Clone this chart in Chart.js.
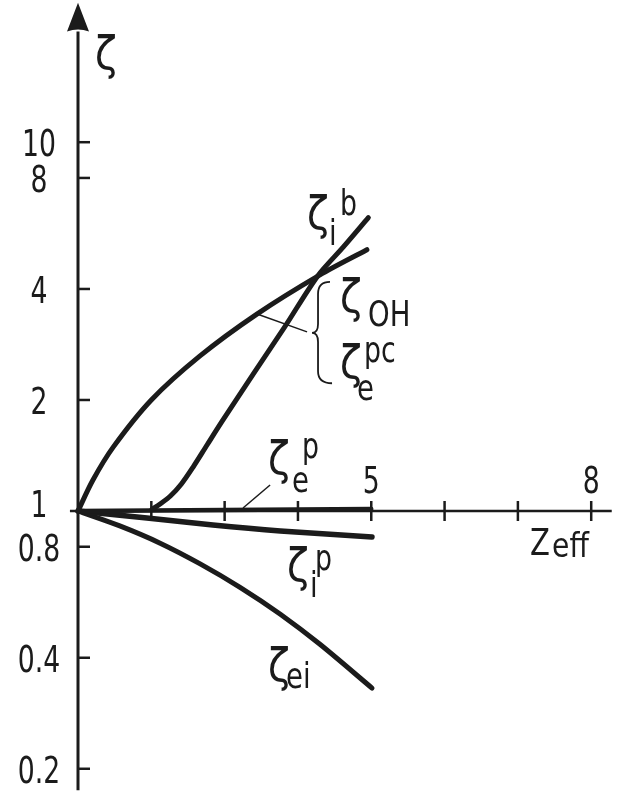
<!DOCTYPE html>
<html>
<head>
<meta charset="UTF-8">
<title>zeta vs Zeff</title>
<style>
  html, body { margin: 0; padding: 0; background: #fff; }
  #wrap { width: 622px; height: 792px; }
</style>
</head>
<body>
<div id="wrap"><canvas id="myChart" width="622" height="792"></canvas></div>

<script src="https://cdn.jsdelivr.net/npm/chart.js@4.4.1/dist/chart.umd.min.js"></script>
<script>
// curves: Z_eff positions and zeta values
var zOH    = [1, 1.2, 1.48, 2.0, 2.66, 3.44, 4.3, 4.94];
var zetaOH = [1, 1.21, 1.49, 2.0, 2.63, 3.42, 4.37, 5.11];
var zIb    = [2.01, 2.12, 2.26, 2.41, 2.57, 2.76, 2.96, 3.41, 3.82, 4.27, 4.62, 4.96];
var zetaIb = [1.01, 1.045, 1.098, 1.184, 1.316, 1.51, 1.744, 2.383, 3.157, 4.34, 5.2, 6.24];
var zEp    = [1, 2, 3, 4, 5];
var zetaEp = [1, 1.003, 1.006, 1.009, 1.012];
var zIp    = [1, 1.94, 2.84, 3.76, 5.01];
var zetaIp = [1, 0.957, 0.916, 0.883, 0.85];
var zEi    = [1, 1.57, 2.12, 2.66, 3.21, 3.76, 4.3, 5.01];
var zetaEi = [1, 0.911, 0.818, 0.72, 0.621, 0.525, 0.435, 0.331];

// axis ticks
var yTicks = [0.2, 0.4, 0.8, 1, 2, 4, 8, 10];
var yTickLabels = ['0.2', '0.4', '0.8', '1', '2', '4', '8', '10'];
var xTicks = [2, 3, 4, 5, 6, 7, 8];
var xTickLabels = ['', '', '', '5', '', '', '8'];

var INK = '#1b1b1b';
var FONT = '"DejaVu Sans Condensed", "DejaVu Sans", sans-serif';

function pts(xs, ys) {
    return xs.map(function (x, i) { return {x: x, y: ys[i]}; });
}

function curve(xs, ys, w) {
    return {
        data: pts(xs, ys),
        borderColor: INK,
        borderWidth: w,
        borderCapStyle: 'round',
        borderJoinStyle: 'round',
        pointRadius: 0,
        fill: false,
        tension: 0.3
    };
}

// text squeezed horizontally, the lettering is a narrow stencil style
function txt(ctx, s, x, y, size, align, squeeze) {
    ctx.save();
    ctx.font = size + 'px ' + FONT;
    ctx.translate(x, y);
    ctx.scale(squeeze, 1);
    ctx.textAlign = align;
    ctx.textBaseline = 'alphabetic';
    ctx.fillText(s, 0, 0);
    ctx.restore();
}

// curve labels: zeta anchored at a data point, indices offset in px
var labels = [
    {x: 1.232, y: 15.8, sub: '', sup: ''},
    {x: 4.124, y: 5.82, sub: 'i', sdx: 22, sdy: 16, sup: 'b', pdx: 33, pdy: -14},
    {x: 4.574, y: 3.47, sub: 'OH', sdx: 28, sdy: 14, sup: ''},
    {x: 4.574, y: 2.30, sub: 'e', sdx: 17, sdy: 22, sup: 'pc', pdx: 24, pdy: -16},
    {x: 3.592, y: 1.26, sub: 'e', sdx: 24, sdy: 18, sup: 'p', pdx: 34, pdy: -16},
    {x: 3.851, y: 0.646, sub: 'i', sdx: 23, sdy: 16, sup: 'p', pdx: 28, pdy: -11},
    {x: 3.592, y: 0.346, sub: 'ei', sdx: 18, sdy: 7, sup: ''}
];

var decor = {
    id: 'decor',
    beforeDatasetsDraw: function (chart) {
        var ctx = chart.ctx, xs = chart.scales.x, ys = chart.scales.y;
        var ax = xs.getPixelForValue(1), ay = ys.getPixelForValue(1);
        ctx.save();
        ctx.strokeStyle = INK;
        ctx.fillStyle = INK;
        ctx.lineCap = 'butt';

        // vertical axis with arrow head
        var top = ys.getPixelForValue(20.2), tip = ys.getPixelForValue(23.9);
        ctx.lineWidth = 3;
        ctx.beginPath();
        ctx.moveTo(ax, ys.getPixelForValue(0.175));
        ctx.lineTo(ax, top + 2);
        ctx.stroke();
        ctx.beginPath();
        ctx.moveTo(ax, tip);
        ctx.lineTo(ax - 11, top + 2);
        ctx.quadraticCurveTo(ax, top - 2, ax + 11, top + 2);
        ctx.closePath();
        ctx.fill();

        // horizontal axis
        ctx.lineWidth = 2.5;
        ctx.beginPath();
        ctx.moveTo(xs.getPixelForValue(0.89), ay);
        ctx.lineTo(xs.getPixelForValue(8.28), ay);
        ctx.stroke();

        // ticks
        ctx.lineWidth = 2.5;
        yTicks.forEach(function (v) {
            if (v === 1) return;
            var y = ys.getPixelForValue(v);
            ctx.beginPath();
            ctx.moveTo(ax, y);
            ctx.lineTo(ax + 12, y);
            ctx.stroke();
        });
        xTicks.forEach(function (v) {
            var x = xs.getPixelForValue(v);
            ctx.beginPath();
            ctx.moveTo(x, ay - 10);
            ctx.lineTo(x, ay + 10);
            ctx.stroke();
        });

        // tick labels
        var lx = xs.getPixelForValue(0.468);
        yTicks.forEach(function (v, i) {
            var y = ys.getPixelForValue(v) + 14;
            if (v === 1) y -= 8;
            txt(ctx, yTickLabels[i], lx, y, 38, 'center', 0.78);
        });
        xTicks.forEach(function (v, i) {
            if (!xTickLabels[i]) return;
            txt(ctx, xTickLabels[i], xs.getPixelForValue(v), ay - 18, 38, 'center', 0.78);
        });
        ctx.restore();
    },
    afterDatasetsDraw: function (chart) {
        var ctx = chart.ctx, xs = chart.scales.x, ys = chart.scales.y;
        function P(x, y) { return [xs.getPixelForValue(x), ys.getPixelForValue(y)]; }
        ctx.save();
        ctx.fillStyle = INK;
        ctx.strokeStyle = INK;

        // thin leader lines
        ctx.lineWidth = 1.5;
        [[3.62, 1.176, 3.251, 1.019], [3.442, 3.42, 4.124, 3.06]].forEach(function (l) {
            var a = P(l[0], l[1]), b = P(l[2], l[3]);
            ctx.beginPath();
            ctx.moveTo(a[0], a[1]);
            ctx.lineTo(b[0], b[1]);
            ctx.stroke();
        });

        // brace grouping zeta_OH and zeta_e^pc
        var T = P(4.437, 4.18), N = P(4.192, 3.04), B = P(4.465, 2.22);
        var s = N[0] + 6;
        ctx.lineWidth = 1.8;
        ctx.beginPath();
        ctx.moveTo(T[0], T[1]);
        ctx.quadraticCurveTo(s, T[1], s, T[1] + 12);
        ctx.lineTo(s, N[1] - 9);
        ctx.quadraticCurveTo(s, N[1], N[0], N[1]);
        ctx.quadraticCurveTo(s, N[1], s, N[1] + 9);
        ctx.lineTo(s, B[1] - 12);
        ctx.quadraticCurveTo(s, B[1], B[0], B[1]);
        ctx.stroke();

        // zeta labels
        labels.forEach(function (l) {
            var p = P(l.x, l.y);
            txt(ctx, '\u03b6', p[0], p[1], 47, 'left', 0.95);
            if (l.sub) txt(ctx, l.sub, p[0] + l.sdx, p[1] + l.sdy, 36, 'left', 0.85);
            if (l.sup) txt(ctx, l.sup, p[0] + l.pdx, p[1] + l.pdy, 35, 'left', 0.85);
        });

        // Z_eff axis title
        var z = P(7.166, 0.76);
        txt(ctx, 'Z', z[0], z[1], 38, 'left', 0.85);
        txt(ctx, 'eff', z[0] + 22, z[1] + 2, 33, 'left', 0.95);
        ctx.restore();
    }
};

var ctx = document.getElementById('myChart');
var myChart = new Chart(ctx, {
    type: 'line',
    data: {
        datasets: [
            curve(zOH, zetaOH, 5),
            curve(zIb, zetaIb, 5),
            curve(zEp, zetaEp, 4.5),
            curve(zIp, zetaIp, 5.5),
            curve(zEi, zetaEi, 5)
        ]
    },
    options: {
        responsive: false,
        animation: false,
        events: [],
        layout: {padding: 0},
        plugins: {legend: {display: false}, tooltip: {enabled: false}},
        scales: {
            x: {type: 'linear', display: false, min: -0.064, max: 8.42},
            y: {type: 'logarithmic', display: false, min: 0.173, max: 24.3}
        }
    },
    plugins: [decor]
});
</script>
</body>
</html>
